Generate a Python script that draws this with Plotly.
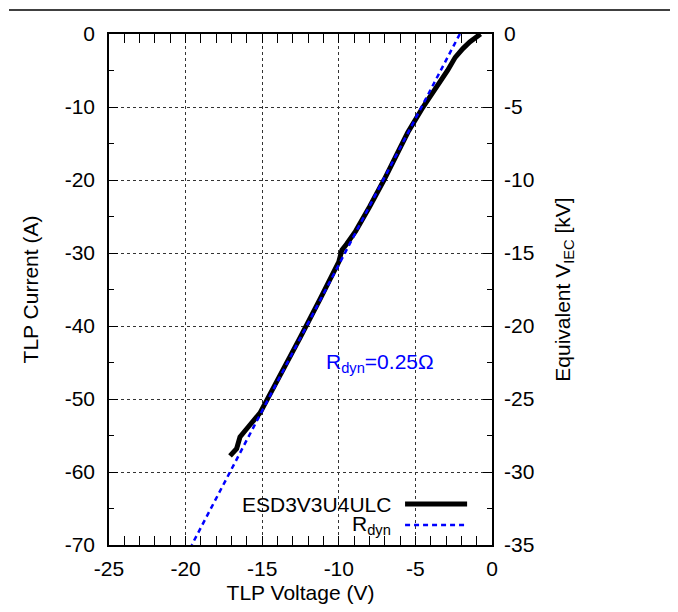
import plotly.graph_objects as go

# TLP measurement (V, A)
tlp_voltage = [-0.75, -0.95, -1.2, -1.45, -1.9, -2.4, -2.9, -3.7, -4.5, -5.5, -6.55, -7.05,
               -8.0, -8.9, -9.5, -9.8, -10.0, -10.3, -11.2, -12.5, -13.7, -14.7, -15.14,
               -15.9, -16.45, -16.67, -17.1]
tlp_current = [0.0, -0.3, -0.7, -1.1, -2.0, -3.2, -5.0, -7.5, -10.0, -13.5, -18.0, -20.0,
               -23.7, -27.0, -28.8, -29.6, -31.2, -32.5, -36.2, -41.5, -46.3, -50.4, -51.9,
               -53.8, -55.2, -56.8, -57.8]

# Dynamic resistance fit line
rdyn_voltage = [-2.1, -19.6]
rdyn_current = [0.0, -70.0]

series_names = ["ESD3V3U4ULC", "R<sub>dyn</sub>"]
rdyn_label = "R<sub>dyn</sub>=0.25Ω"

x_ticks = [-25, -20, -15, -10, -5, 0]
y_ticks = [-70, -60, -50, -40, -30, -20, -10, 0]
y2_ticks = [-35, -30, -25, -20, -15, -10, -5, 0]

FONT = "Liberation Sans, Arial, Helvetica, sans-serif"
FS = 21

fig = go.Figure()
fig.add_trace(go.Scatter(x=tlp_voltage, y=tlp_current, mode="lines",
                         line=dict(color="black", width=5), name=series_names[0],
                         showlegend=False))
fig.add_trace(go.Scatter(x=rdyn_voltage, y=rdyn_current, mode="lines",
                         line=dict(color="#0000ff", width=2.5, dash="5px,4px"),
                         name=series_names[1], showlegend=False))
fig.add_trace(go.Scatter(x=[None], y=[None], yaxis="y2", mode="markers",
                         showlegend=False, hoverinfo="skip"))

axis_common = dict(showline=True, linecolor="black", linewidth=1.5, mirror="allticks",
                   ticks="inside", tickcolor="black", tickwidth=1, automargin=False,
                   showgrid=True, gridcolor="#333333", gridwidth=1, griddash="dot",
                   zeroline=False, tickfont=dict(family=FONT, size=FS, color="black"))

fig.update_layout(
    width=662, height=596,
    margin=dict(l=101, r=178, t=26, b=59, autoexpand=False),
    paper_bgcolor="white", plot_bgcolor="white",
    font=dict(family=FONT, size=FS, color="black"),
    xaxis=dict(range=[-25, 0], tickvals=x_ticks, ticktext=[str(v) for v in x_ticks], ticklen=9,
               minor=dict(dtick=1, ticks="inside", ticklen=5, tickcolor="black", showgrid=False),
               title=dict(text="TLP Voltage (V)", font=dict(size=FS), standoff=11),
               ticklabelstandoff=4,
               **axis_common),
    yaxis=dict(range=[-70, 0], tickvals=y_ticks, ticktext=[str(v) for v in y_ticks], ticklen=9,
               minor=dict(dtick=5, ticks="inside", ticklen=5, tickcolor="black", showgrid=False),
               title=dict(text="TLP Current (A)", font=dict(size=FS), standoff=20),
               ticklabelstandoff=8,
               **axis_common),
    yaxis2=dict(range=[-35, 0], tickvals=y2_ticks, ticktext=[str(v) for v in y2_ticks],
                overlaying="y", side="right", automargin=False,
                showgrid=False, zeroline=False, showline=False, ticks="",
                ticklabelstandoff=11,
                tickfont=dict(family=FONT, size=FS, color="black"),
                title=dict(text="Equivalent V<sub>IEC</sub> [kV]", font=dict(size=FS), standoff=21)),
    showlegend=False,
)

fig.add_annotation(x=-7.3, y=-45.1, xref="x", yref="y", text=rdyn_label, showarrow=False,
                   font=dict(family=FONT, size=FS, color="#0000ff"))

# custom legend (text right-aligned, sample on the right)
leg_y = [0.080, 0.039]
for name, yy in zip(series_names, leg_y):
    fig.add_annotation(x=0.7415, y=yy, xref="paper", yref="paper", text=name,
                       showarrow=False, xanchor="right", yanchor="middle",
                       font=dict(family=FONT, size=FS, color="black"))
fig.add_shape(type="line", xref="paper", yref="paper", x0=0.773, x1=0.935,
              y0=leg_y[0], y1=leg_y[0], line=dict(color="black", width=5))
fig.add_shape(type="line", xref="paper", yref="paper", x0=0.773, x1=0.935,
              y0=leg_y[1], y1=leg_y[1], line=dict(color="#0000ff", width=2.5, dash="5px,4px"))

# outer frame (top edge)
frame_x = -100.0 / 383.0
fig.add_shape(type="line", xref="paper", yref="paper", x0=frame_x, x1=1.7, y0=1.047, y1=1.047,
              line=dict(color="black", width=1.5))

fig.write_html("out.html")
